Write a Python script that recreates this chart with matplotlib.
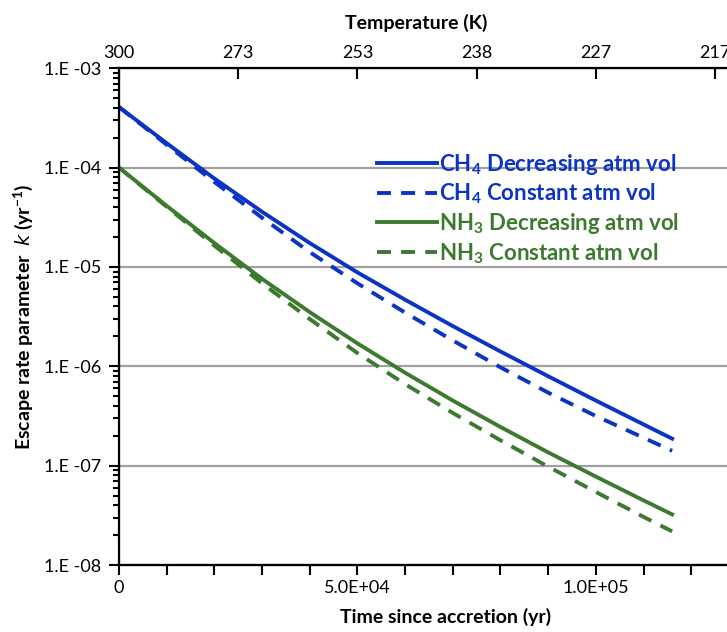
import numpy as np
import matplotlib
matplotlib.use("Agg")
import matplotlib.pyplot as plt
from matplotlib.ticker import FixedLocator, MultipleLocator, FuncFormatter, LogLocator, NullFormatter

plt.rcParams["font.family"] = ["Lato", "DejaVu Sans"]
plt.rcParams["mathtext.fontset"] = "custom"
plt.rcParams["mathtext.rm"] = "Lato"
plt.rcParams["mathtext.bf"] = "Lato:bold"

# time since accretion (yr)
years = [0, 1e4, 2e4, 3e4, 4e4, 5e4, 6e4, 7e4, 8e4, 9e4, 1e5, 1.1e5, 1.16e5]

# escape rate parameter k (1/yr)
ch4_decreasing = [4.07e-4, 1.76e-4, 7.76e-5, 3.59e-5, 1.74e-5, 8.81e-6, 4.68e-6,
                  2.54e-6, 1.41e-6, 7.94e-7, 4.52e-7, 2.60e-7, 1.87e-7]
ch4_constant = [4.07e-4, 1.70e-4, 7.16e-5, 3.13e-5, 1.41e-5, 6.84e-6, 3.47e-6,
                1.82e-6, 9.77e-7, 5.43e-7, 3.16e-7, 1.91e-7, 1.41e-7]
nh3_decreasing = [1.00e-4, 4.12e-5, 1.74e-5, 7.59e-6, 3.51e-6, 1.70e-6, 8.61e-7,
                  4.52e-7, 2.45e-7, 1.36e-7, 7.76e-8, 4.47e-8, 3.23e-8]
nh3_constant = [1.00e-4, 4.03e-5, 1.64e-5, 6.84e-6, 2.99e-6, 1.36e-6, 6.61e-7,
                3.39e-7, 1.80e-7, 9.77e-8, 5.43e-8, 3.05e-8, 2.18e-8]

# top axis: temperature at given times
temp_ticks = [0, 25000, 50000, 75000, 100000, 125000]
temp_labels = ["300", "273", "253", "238", "227", "217"]

blue = "#0b33c4"
green = "#3c7a30"
lw = 2.8
dash = (3.6, 2.6)

fig = plt.figure(figsize=(7.27, 6.32), dpi=100)
ax = fig.add_axes([0.1637, 0.106, 0.8363, 0.786])

ax.plot(years, ch4_decreasing, color=blue, lw=lw, label=r"CH$_\mathbf{4}$ Decreasing atm vol")
ax.plot(years, ch4_constant, color=blue, lw=lw, dashes=dash, label=r"CH$_\mathbf{4}$ Constant atm vol")
ax.plot(years, nh3_decreasing, color=green, lw=lw, label=r"NH$_\mathbf{3}$ Decreasing atm vol")
ax.plot(years, nh3_constant, color=green, lw=lw, dashes=dash, label=r"NH$_\mathbf{3}$ Constant atm vol")

ax.set_yscale("log")
ax.set_ylim(1e-8, 1e-3)
ax.set_xlim(0, 1.275e5)

ax.yaxis.set_major_locator(LogLocator(base=10, numticks=10))
ax.yaxis.set_minor_locator(LogLocator(base=10, subs=np.arange(2, 10), numticks=20))
ax.yaxis.set_minor_formatter(NullFormatter())
ax.yaxis.set_major_formatter(FuncFormatter(lambda v, p: "1.E -%02d" % round(-np.log10(v))))

ax.xaxis.set_major_locator(FixedLocator([0, 5e4, 1e5]))
ax.xaxis.set_minor_locator(MultipleLocator(1e4))
ax.xaxis.set_major_formatter(FuncFormatter(lambda v, p: "0" if v == 0 else "%.1fE+%02d" % (v / 10 ** int(np.log10(v)), int(np.log10(v)))))

ax.yaxis.grid(True, which="major", color="#a0a0a0", lw=1.6)
ax.set_axisbelow(True)

for s in ["left", "bottom", "top"]:
    ax.spines[s].set_linewidth(1.6)
ax.spines["right"].set_visible(False)

ax.tick_params(axis="both", which="both", direction="out", width=1.5, labelsize=13, colors="black")
ax.tick_params(axis="both", which="major", length=7)
ax.tick_params(axis="y", which="major", pad=6)
ax.tick_params(axis="y", which="minor", length=4)
ax.tick_params(axis="x", which="minor", length=7)

ax.set_xlabel("Time since accretion (yr)", fontsize=14, fontweight="bold", labelpad=9)
ax.xaxis.label.set_x(0.537)
ax.set_ylabel(r"Escape rate parameter  $\mathbf{\mathit{k}}$ (yr$^\mathbf{-1}$)", fontsize=14, fontweight="bold", labelpad=6)

ax2 = ax.twiny()
ax2.set_xlim(ax.get_xlim())
ax2.set_xticks(temp_ticks)
ax2.set_xticklabels(temp_labels)
ax2.spines["right"].set_visible(False)
ax2.tick_params(axis="x", direction="in", length=8, width=1.5, labelsize=13, pad=5)
ax2.set_xlabel("Temperature (K)", fontsize=14, fontweight="bold", labelpad=12)
ax2.xaxis.label.set_x(0.489)

leg = ax.legend(loc="upper left", bbox_to_anchor=(0.41, 0.85), frameon=False,
                handlelength=2.7, handletextpad=0.1, labelspacing=0.22, borderaxespad=0,
                prop={"weight": "bold", "size": 16})
for txt, c in zip(leg.get_texts(), [blue, blue, green, green]):
    txt.set_color(c)

fig.savefig("out.png", dpi=100)
